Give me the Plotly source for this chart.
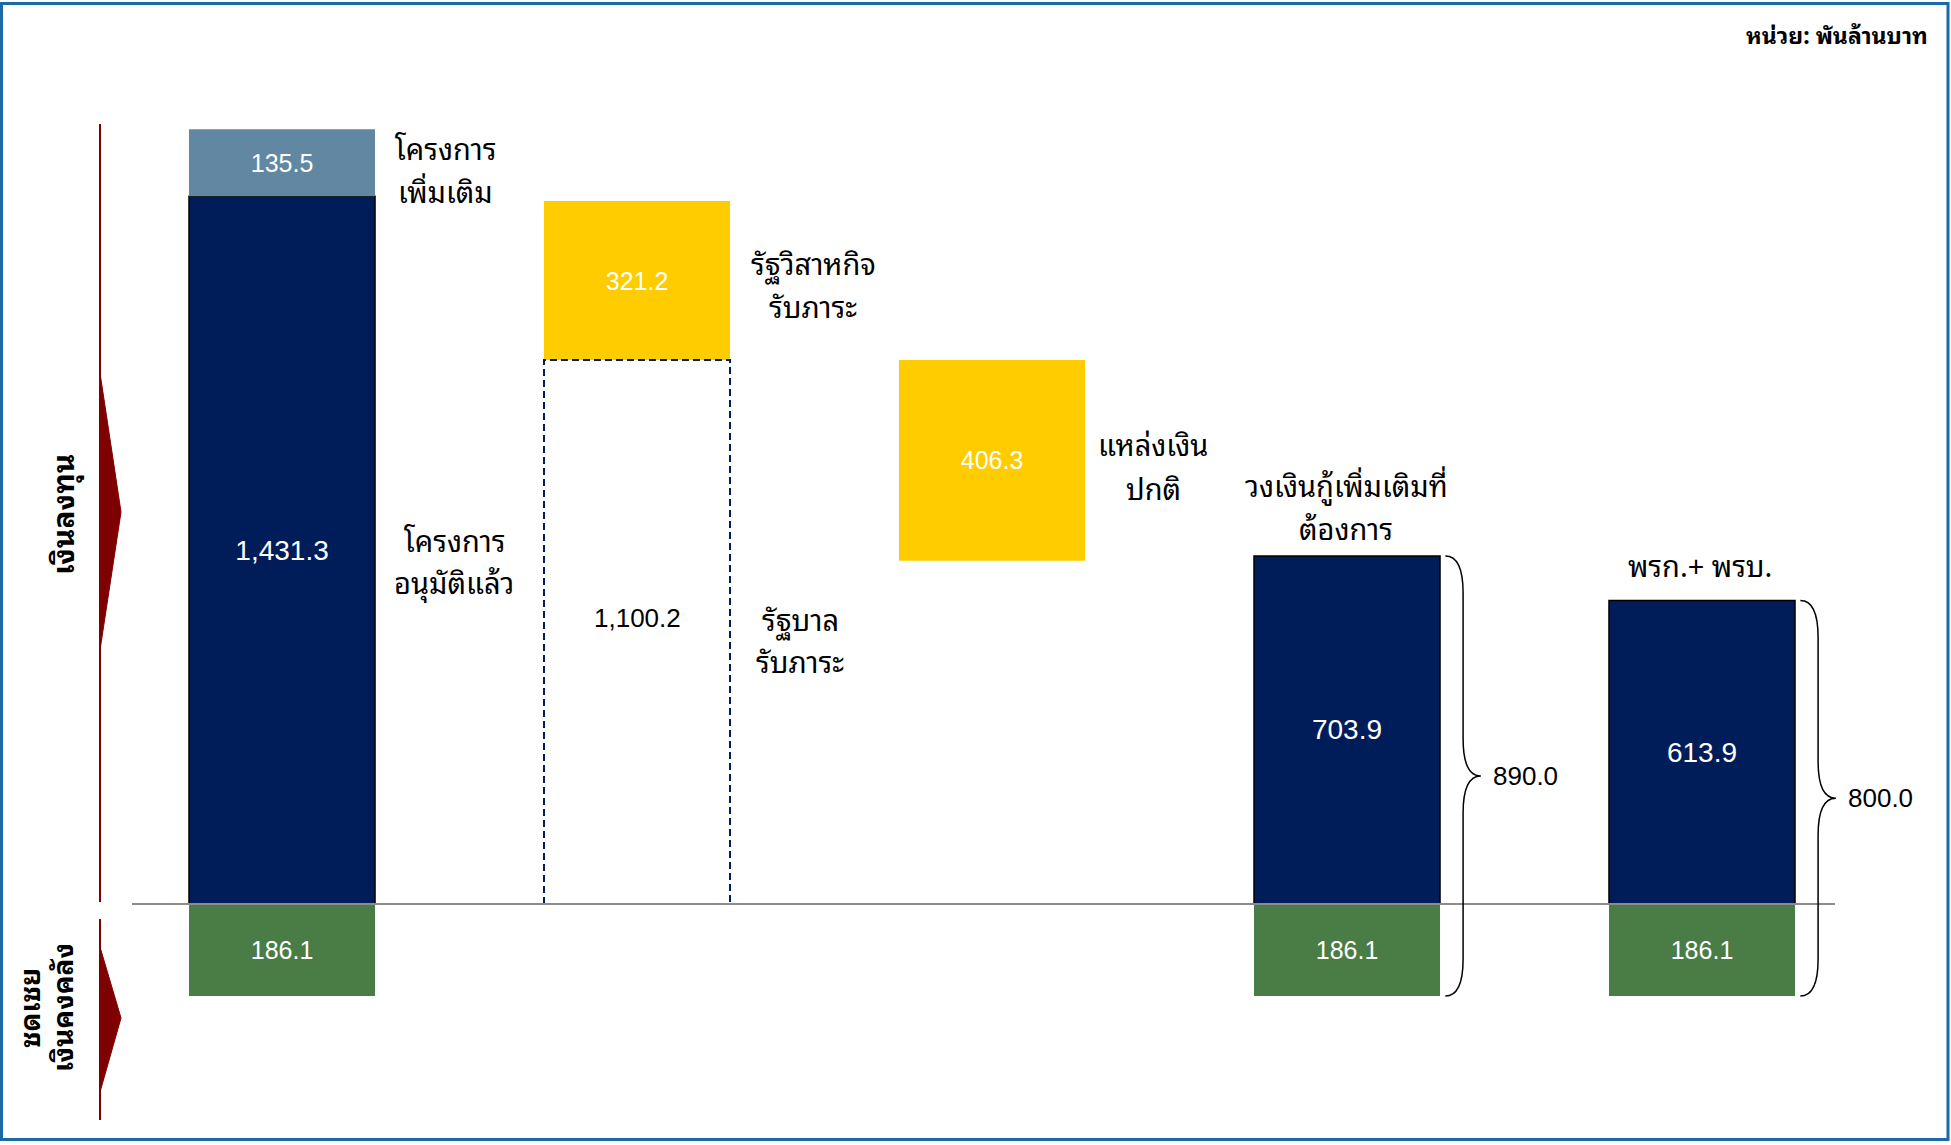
import plotly.graph_objects as go

# ---------------- data (พันล้านบาท) ----------------
bar_x = [0, 1, 2, 3, 4]
navy_vals = [1431.3, 0, 0, 703.9, 613.9]          # โครงการอนุมัติแล้ว / วงเงินกู้ / พรก.+พรบ.
extra_vals = [135.5, 0, 0, 0, 0]                   # โครงการเพิ่มเติม
yellow_vals = [0, 321.2, 406.3, 0, 0]              # รัฐวิสาหกิจรับภาระ / แหล่งเงินปกติ
govt_burden = [0, 1100.2, 0, 0, 0]                 # รัฐบาลรับภาระ (dashed)
green_vals = [186.1, 0, 0, 186.1, 186.1]           # ชดเชยเงินคงคลัง
brace_totals = [890.0, 800.0]

value_labels_navy = ["1,431.3", "", "", "703.9", "613.9"]
value_labels_extra = ["135.5", "", "", "", ""]
value_labels_yellow = ["", "321.2", "406.3", "", ""]
value_labels_green = ["186.1", "", "", "186.1", "186.1"]
govt_label = "1,100.2"
brace_labels = ["890.0", "800.0"]

unit_text = "หน่วย: พันล้านบาท"
side_label_top = "เงินลงทุน"
side_label_bottom = ["ชดเชย", "เงินคงคลัง"]
desc_labels = [
    ["โครงการ", "เพิ่มเติม"],
    ["โครงการ", "อนุมัติแล้ว"],
    ["รัฐวิสาหกิจ", "รับภาระ"],
    ["รัฐบาล", "รับภาระ"],
    ["แหล่งเงิน", "ปกติ"],
    ["วงเงินกู้เพิ่มเติมที่", "ต้องการ"],
    ["พรก.+ พรบ."],
]

# ---------------- style ----------------
W, H = 1951, 1145
NAVY = "#011d59"
LIGHT = "#6187a3"
YELLOW = "#ffcc00"
GREEN = "#4a7c46"
RED = "#7f0000"
GREY = "#8c8c8c"
FRAME = "#1a6aa6"
NUM_FONT = "Arial, 'Liberation Sans', sans-serif"
THAI_FONT = "Tahoma, 'Noto Sans Thai Looped', 'Noto Sans Thai', 'Noto Sans', sans-serif"
BW = 0.524

def px(x):
    return x / W

def py(y):
    return 1 - y / H

fig = go.Figure()

# base of yellow (waterfall): รัฐวิสาหกิจ sits on รัฐบาล; แหล่งเงินปกติ hangs below that level
yellow_base = [0, govt_burden[1], govt_burden[1] - yellow_vals[2], 0, 0]
extra_base = [navy_vals[i] for i in range(5)]

fig.add_trace(go.Bar(
    x=bar_x, y=navy_vals, base=[0] * 5, width=BW,
    marker=dict(color=NAVY, line=dict(color="#000000", width=1.5)),
    text=value_labels_navy, textposition="inside", insidetextanchor="middle",
    textangle=0, textfont=dict(color="white", size=28, family=NUM_FONT),
))
fig.add_trace(go.Bar(
    x=bar_x, y=extra_vals, base=extra_base, width=BW,
    marker=dict(color=LIGHT, line=dict(width=0)),
    text=value_labels_extra, textposition="inside", insidetextanchor="middle",
    textangle=0, textfont=dict(color="white", size=25, family=NUM_FONT),
))
fig.add_trace(go.Bar(
    x=bar_x, y=yellow_vals, base=yellow_base, width=BW,
    marker=dict(color=YELLOW, line=dict(width=0)),
    text=value_labels_yellow, textposition="inside", insidetextanchor="middle",
    textangle=0, textfont=dict(color="white", size=25, family=NUM_FONT),
))
fig.add_trace(go.Bar(
    x=bar_x, y=[-v for v in green_vals], base=[0] * 5, width=BW,
    marker=dict(color=GREEN, line=dict(width=0)),
    text=value_labels_green, textposition="inside", insidetextanchor="middle",
    textangle=0, textfont=dict(color="white", size=25, family=NUM_FONT),
))

# dashed government-burden box
gx = bar_x[1]
gv = govt_burden[1]
fig.add_trace(go.Scatter(
    x=[gx - BW / 2, gx - BW / 2, gx + BW / 2, gx + BW / 2],
    y=[0, gv, gv, 0], mode="lines",
    line=dict(color=NAVY, width=2, dash="7px,4px"),
))
fig.add_annotation(x=gx, y=gv / 2, xref="x", yref="y", text=govt_label,
                   showarrow=False, yshift=14,
                   font=dict(family=NUM_FONT, size=26, color="black"))

shapes = []
# baseline
shapes.append(dict(type="line", xref="paper", yref="y", x0=px(132), x1=px(1835), y0=0, y1=0,
                   line=dict(color=GREY, width=2)))

# braces
for k, i in enumerate([3, 4]):
    top = navy_vals[i]
    bot = -green_vals[i]
    mid = (top + bot) / 2
    x0 = bar_x[i] + BW / 2 + 0.015
    d = 0.05
    r = 75
    path = (f"M {x0},{top} Q {x0 + d},{top} {x0 + d},{top - r} "
            f"L {x0 + d},{mid + r} Q {x0 + d},{mid} {x0 + 2 * d},{mid} "
            f"Q {x0 + d},{mid} {x0 + d},{mid - r} "
            f"L {x0 + d},{bot + r} Q {x0 + d},{bot} {x0},{bot}")
    shapes.append(dict(type="path", xref="x", yref="y", path=path,
                       line=dict(color="black", width=1.5)))
    fig.add_annotation(x=x0 + 2 * d, y=mid, xref="x", yref="y", text=brace_labels[k],
                       showarrow=False, xanchor="left", xshift=10,
                       font=dict(family=NUM_FONT, size=26, color="black"))

# left red guide lines and arrows
shapes.append(dict(type="line", xref="paper", yref="paper", x0=px(100), x1=px(100),
                   y0=py(124), y1=py(902), line=dict(color=RED, width=2)))
shapes.append(dict(type="line", xref="paper", yref="paper", x0=px(100), x1=px(100),
                   y0=py(919), y1=py(1120), line=dict(color=RED, width=2)))
for (a, t, b) in [(373, 512, 650), (947, 1018, 1092)]:
    shapes.append(dict(type="path", xref="paper", yref="paper",
                       path=f"M {px(100)},{py(a)} L {px(121)},{py(t)} L {px(100)},{py(b)} Z",
                       fillcolor=RED, line=dict(color=RED, width=1)))

# frame
shapes.append(dict(type="rect", xref="paper", yref="paper", x0=px(1.5), x1=px(1948),
                   y0=py(1139.5), y1=py(3.5), line=dict(color=FRAME, width=3)))

fig.update_layout(shapes=shapes)

# description labels (pixel positions of each line centre)
desc_pos = [
    (445, [147, 190]),
    (454, [539, 581]),
    (813, [262, 305]),
    (800, [618, 660]),
    (1153, [443, 487]),
    (1346, [484, 527]),
    (1700, [564]),
]
for lines, (cx, ys) in zip(desc_labels, desc_pos):
    for t, yy in zip(lines, ys):
        fig.add_annotation(x=px(cx), y=py(yy), xref="paper", yref="paper", text=t,
                           showarrow=False, xanchor="center", yanchor="middle",
                           font=dict(family=THAI_FONT, size=29, color="black"))

fig.add_annotation(x=px(1930), y=py(33), xref="paper", yref="paper",
                   text=f"<b>{unit_text}</b>", showarrow=False,
                   xanchor="right", yanchor="middle",
                   font=dict(family=THAI_FONT, size=23, color="black"))

fig.add_annotation(x=px(60), y=py(515), xref="paper", yref="paper",
                   text=f"<b>{side_label_top}</b>", showarrow=False, textangle=-90,
                   xanchor="center", yanchor="middle",
                   font=dict(family=THAI_FONT, size=30, color="black"))
for t, xx in zip(side_label_bottom, [27, 60]):
    fig.add_annotation(x=px(xx), y=py(1008), xref="paper", yref="paper",
                       text=f"<b>{t}</b>", showarrow=False, textangle=-90,
                       xanchor="center", yanchor="middle",
                       font=dict(family=THAI_FONT, size=28, color="black"))

fig.update_layout(
    width=W, height=H,
    margin=dict(l=0, r=0, t=0, b=0),
    paper_bgcolor="white", plot_bgcolor="white",
    showlegend=False, barmode="overlay",
    xaxis=dict(range=[-0.7944, 4.7014], visible=False, fixedrange=True),
    yaxis=dict(range=[-487.4, 1828.1], visible=False, fixedrange=True),
)

fig.write_html("out.html")
